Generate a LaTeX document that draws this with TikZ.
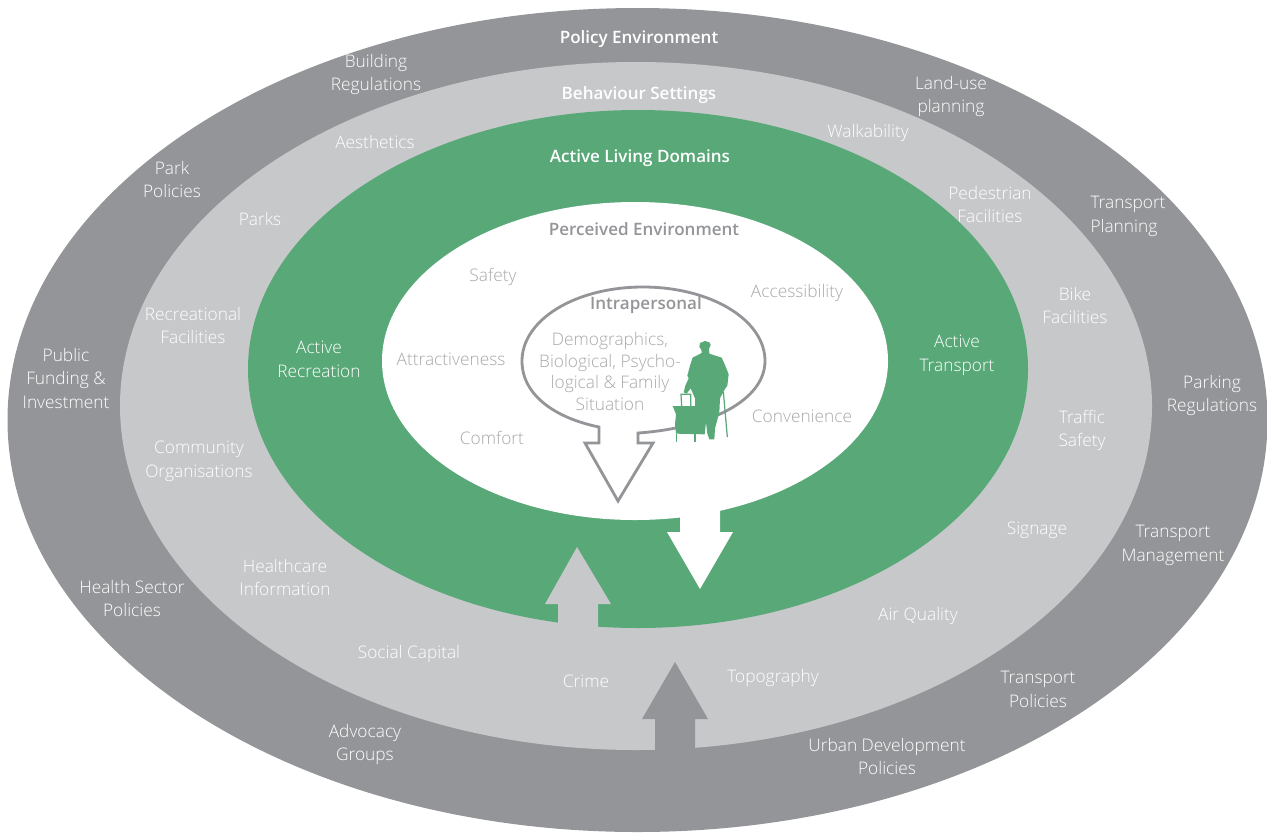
\documentclass[tikz,border=0pt]{standalone}
\usepackage{fontspec}
\setmainfont[BoldFont={Open Sans Semibold}]{Open Sans Light}
\definecolor{policygray}{HTML}{939598}
\definecolor{settinggray}{HTML}{C7C8CA}
\definecolor{domaingreen}{HTML}{58A878}
\definecolor{labelgray}{HTML}{A7A9AC}
\tikzset{
    lab/.style={align=center,font=\fontsize{9.85}{13.4}\selectfont,text=white,inner sep=0pt,yshift=-0.85pt},
    graylab/.style={lab,text=labelgray},
    situationlab/.style={graylab,font=\fontsize{9.85}{12.3}\selectfont},
    head/.style={lab,font=\fontsize{9.7}{13.4}\selectfont\bfseries},
    grayhead/.style={head,text=policygray}
}
\begin{document}
\begin{tikzpicture}[x=0.02cm,y=-0.02cm]
        \useasboundingbox (0,0) rectangle (1267,832);

        % Draw the rings
        \fill[policygray] (637.5,420) ellipse [x radius=630,y radius=412];
        \fill[settinggray] (636,406) ellipse [x radius=516,y radius=344];
        \fill[domaingreen] (638,369) ellipse [x radius=390,y radius=259];
        \fill[white] (635,361) ellipse [x radius=253,y radius=159];

        % Draw the arrows between the rings
        \fill[policygray] (655,750) -- (655,719) -- (642,719) -- (675,662) -- (708,719) -- (695,719) -- (695,750) -- cycle;
        \fill[settinggray] (558,630) -- (558,604) -- (545,604) -- (577,547) -- (611,604) -- (598,604) -- (598,630) -- cycle;
        \fill[white] (680,510) -- (680,532) -- (667,532) -- (700,589) -- (733,532) -- (720,532) -- (720,510) -- cycle;

        % Draw the speech outline
        \draw[policygray,line width=1.6pt,fill=white,line join=miter]
            (599,427) .. controls (555,418) and (522,395) .. (522,361)
            .. controls (522,320) and (575,287) .. (643,287)
            .. controls (711,287) and (765,320) .. (765,361)
            .. controls (765,400) and (710,428) .. (638,433)
            -- (638,443) -- (653,443) -- (618,501) -- (585,443) -- (599,443) -- cycle;

        % Draw the walking figure
        \begin{scope}[shift={(670,335)},x=0.00667cm,y=-0.00667cm]
            \fill[domaingreen] (105,18) -- (90,24) -- (88,36) -- (94,44) -- (95,54) -- (68,68) -- (60,92) -- (52,122) -- (56,130)
                -- (46,152) -- (41,172) -- (50,176) -- (62,160) -- (75,190) -- (75,213) -- (8,213) -- (18,238) -- (15,268) -- (18,296)
                -- (104,298) -- (108,262) -- (112,296) -- (118,313) -- (133,313) -- (135,280) -- (148,232) -- (150,190)
                -- (163,165) -- (172,152) -- (176,118) -- (165,90) -- (155,68) -- (118,56) -- (117,42) -- (122,30) -- (118,22) -- cycle;
            \draw[domaingreen,line width=0.7pt] (35,213) -- (33,178) -- (62,178) -- (62,213);
            \draw[domaingreen,line width=0.7pt] (20,296) -- (20,320) (75,296) -- (75,320);
            \draw[domaingreen,line width=0.7pt] (160,170) -- (172,306);
        \end{scope}

        % Policy environment labels
        \foreach \nm/\x/\y/\txt in {
            building/376/73/{Building\\Regulations},
            landuse/951/95/{Land-use\\planning},
            park/172/178/{Park\\Policies},
            funding/66/377/{Public\\Funding \&\\Investment},
            parking/1212/394/{Parking\\Regulations},
            transman/1173/544/{Transport\\Management},
            health/132/597/{Health Sector\\Policies},
            transpol/1038/688/{Transport\\Policies},
            advocacy/365/743/{Advocacy\\Groups},
            urban/887/755/{Urban Development\\Policies}}{
            \node[lab] (\nm) at (\x,\y) {\txt};
        }
        \node[lab,align=left] (transplan) at (1128,215) {Transport\\Planning};

        % Behaviour settings labels
        \foreach \nm/\x/\y/\txt in {
            aesthetics/375/141/{Aesthetics},
            walkability/868/132/{Walkability},
            parks/260/218/{Parks},
            pedestrian/990/203/{Pedestrian\\Facilities},
            recreational/193/324/{Recreational\\Facilities},
            bike/1075/304/{Bike\\Facilities},
            community/199/460/{Community\\Organisations},
            traffic/1082/429/{Traffic\\Safety},
            signage/1037/529/{Signage},
            healthcare/285/576/{Healthcare\\Information},
            airquality/918/614/{Air Quality},
            social/409/652/{Social Capital},
            crime/586/680/{Crime},
            topography/773/676/{Topography}}{
            \node[lab] (\nm) at (\x,\y) {\txt};
        }

        % Domains and perceived environment labels
        \node[lab] (recreation) at (319,358) {Active\\Recreation};
        \node[lab] (transport) at (957,354) {Active\\Transport};
        \foreach \nm/\x/\y/\txt in {
            safety/493/275/{Safety},
            accessibility/797/292/{Accessibility},
            attractiveness/451/358/{Attractiveness},
            convenience/802/415/{Convenience},
            comfort/492/436/{Comfort}}{
            \node[graylab] (\nm) at (\x,\y) {\txt};
        }
        \node[situationlab] (demographics) at (610,370) {Demographics,\\Biological, Psycho-\\logical \& Family\\Situation};

        % Ring titles
        \node[head] (policy) at (639,38) {Policy Environment};
        \node[head] (behaviour) at (639,94) {Behaviour Settings};
        \node[head] (active) at (640,157) {Active Living Domains};
        \node[grayhead] (perceived) at (644,228) {Perceived Environment};
        \node[grayhead] (intrapersonal) at (646,304) {Intrapersonal};
\end{tikzpicture}
\end{document}
